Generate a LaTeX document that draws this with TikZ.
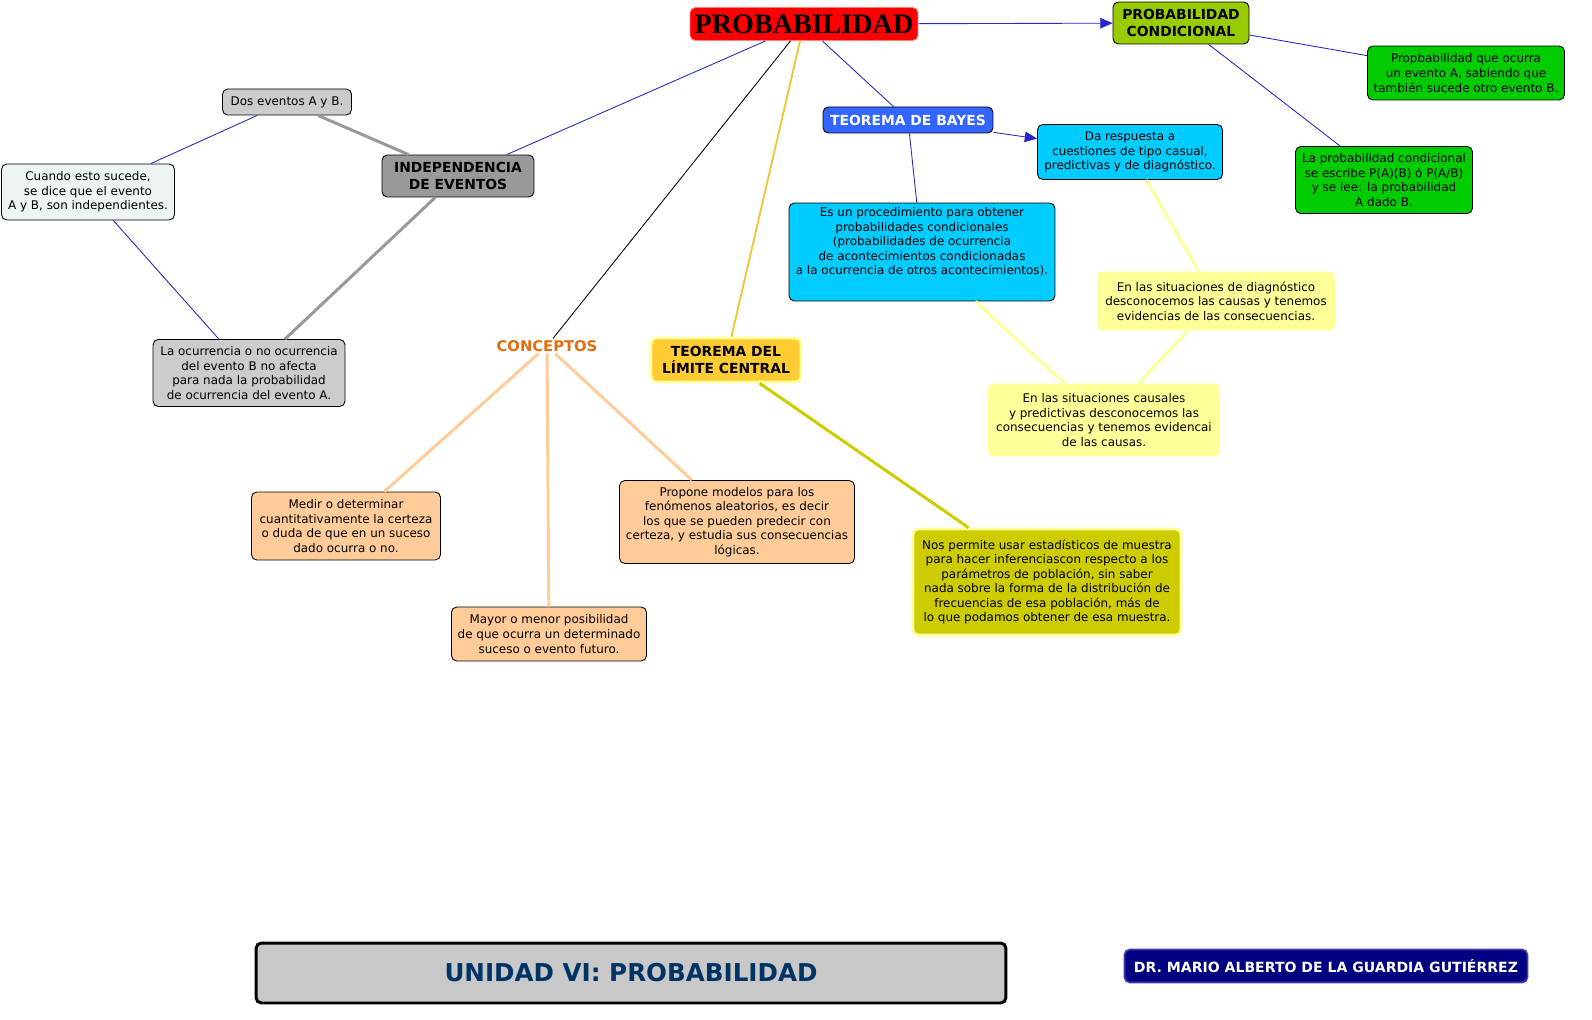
\documentclass[tikz,border=0pt]{standalone}
\usepackage{fontspec}
\setmainfont{DejaVu Sans}
\newfontfamily\titlefont{Liberation Serif}
\usepackage{tikz}
\usetikzlibrary{arrows.meta}
\usepackage{xcolor}

\definecolor{linkblue}{RGB}{40,40,200}
\definecolor{redbox}{RGB}{255,0,0}
\definecolor{condgreen}{RGB}{153,204,0}
\definecolor{leafgreen}{RGB}{0,204,0}
\definecolor{bayesblue}{RGB}{51,102,255}
\definecolor{skyblue}{RGB}{0,204,255}
\definecolor{paleyellow}{RGB}{255,255,153}
\definecolor{goldbox}{RGB}{255,204,51}
\definecolor{olivebox}{RGB}{204,204,0}
\definecolor{peach}{RGB}{255,204,153}
\definecolor{midgray}{RGB}{153,153,153}
\definecolor{lightgray}{RGB}{204,204,204}
\definecolor{paleblue}{RGB}{238,244,246}
\definecolor{conceptorange}{RGB}{228,108,10}
\definecolor{unitblue}{RGB}{0,51,102}
\definecolor{navybox}{RGB}{0,0,128}

\tikzset{
  concept/.style={draw=black, line width=0.5pt, rounded corners=3pt, align=center,
    font=\fontsize{6.8}{8.3}\selectfont, inner sep=1pt},
  headbox/.style={concept, font=\fontsize{7.9}{9.2}\selectfont\bfseries},
  thinlink/.style={draw=linkblue, line width=0.5pt},
  thicklink/.style={line width=1.7pt},
}

\begin{document}
\begin{tikzpicture}[x=0.02cm, y=-0.02cm]
    \useasboundingbox (0,0) rectangle (1592,1020);

    % main title and first level
    \node[concept, fill=redbox, draw={rgb,255:red,255;green,130;blue,130}, minimum width=4.56cm, minimum height=0.66cm,
      font=\titlefont\fontsize{16}{17}\selectfont\bfseries] (prob) at (804,24) {PROBABILIDAD};
    \node[headbox, fill=condgreen, minimum width=2.72cm, minimum height=0.84cm] (cond) at (1181,23) {PROBABILIDAD\\CONDICIONAL};
    \node[headbox, fill=bayesblue, text=white, minimum width=3.4cm, minimum height=0.52cm] (bayes) at (908,120) {TEOREMA DE BAYES};
    \node[headbox, fill=midgray, minimum width=3.04cm, minimum height=0.84cm] (indep) at (458,176) {INDEPENDENCIA\\DE EVENTOS};
    \node[font=\fontsize{8.4}{9}\selectfont\bfseries, text=conceptorange, inner sep=1pt] (concepts) at (547,346) {CONCEPTOS};
    \node[headbox, fill=goldbox, draw=paleyellow, line width=1.5pt, minimum width=3.0cm, minimum height=0.88cm] (limit) at (726,360) {TEOREMA DEL\\LÍMITE CENTRAL};

    % conditional probability
    \node[concept, fill=leafgreen, minimum width=3.94cm, minimum height=1.08cm] (occurs) at (1466,73)
      {Propbabilidad que ocurra\\ un evento A, sabiendo que\\también sucede otro evento B.};
    \node[concept, fill=leafgreen, minimum width=3.54cm, minimum height=1.34cm] (written) at (1384,180)
      {La probabilidad condicional\\se escribe P(A)(B) ó P(A/B)\\y se lee: la probabilidad\\A dado B.};

    % Bayes
    \node[concept, fill=skyblue, minimum width=3.7cm, minimum height=1.1cm] (answers) at (1130,152)
      {Da respuesta a\\cuestiones de tipo casual,\\predictivas y de diagnóstico.};
    \node[concept, fill=skyblue, minimum width=5.32cm, minimum height=1.96cm] (procedure) at (922,252)
      {Es un procedimiento para obtener\\probabilidades condicionales\\(probabilidades de ocurrencia\\de acontecimientos condicionadas\\a la ocurrencia de otros acontecimientos).\\[4pt]};
    \node[concept, fill=paleyellow, draw=none, minimum width=4.76cm, minimum height=1.18cm] (diagnosis) at (1216,301)
      {En las situaciones de diagnóstico\\desconocemos las causas y tenemos\\evidencias de las consecuencias.};
    \node[concept, fill=paleyellow, draw=none, minimum width=4.64cm, minimum height=1.46cm] (causal) at (1104,420)
      {En las situaciones causales\\y predictivas desconocemos las\\consecuencias y tenemos evidencai\\de las causas.};

    % central limit theorem
    \node[concept, fill=olivebox, draw=paleyellow, line width=1.5pt, minimum width=5.36cm, minimum height=2.12cm] (allows) at (1047,582)
      {Nos permite usar estadísticos de muestra\\para hacer inferenciascon respecto a los\\parámetros de población, sin saber\\nada sobre la forma de la distribución de\\frecuencias de esa población, más de\\lo que podamos obtener de esa muestra.};

    % concepts
    \node[concept, fill=peach, minimum width=3.78cm, minimum height=1.36cm] (measure) at (346,526)
      {Medir o determinar\\cuantitativamente la certeza\\o duda de que en un suceso\\dado ocurra o no.};
    \node[concept, fill=peach, minimum width=3.9cm, minimum height=1.08cm] (chance) at (549,634)
      {Mayor o menor posibilidad\\de que ocurra un determinado\\suceso o evento futuro.};
    \node[concept, fill=peach, minimum width=4.7cm, minimum height=1.66cm] (models) at (737,522)
      {Propone modelos para los\\fenómenos aleatorios, es decir\\los que se pueden predecir con\\certeza, y estudia sus consecuencias\\lógicas.};

    % independence
    \node[concept, fill=lightgray, minimum width=2.58cm, minimum height=0.52cm] (two) at (287,102) {Dos eventos A y B.};
    \node[concept, fill=paleblue, minimum width=3.46cm, minimum height=1.12cm] (when) at (88,192)
      {Cuando esto sucede,\\se dice que el evento\\A y B, son independientes.};
    \node[concept, fill=lightgray, minimum width=3.84cm, minimum height=1.34cm] (noeffect) at (249,373)
      {La ocurrencia o no ocurrencia\\del evento B no afecta\\para nada la probabilidad\\de ocurrencia del evento A.};

    % footer
    \node[concept, fill={rgb,255:red,200;green,200;blue,200}, line width=1.7pt, minimum width=15cm, minimum height=1.2cm,
      text=unitblue, font=\fontsize{14}{15}\selectfont\bfseries] (unit) at (631,973) {UNIDAD VI: PROBABILIDAD};
    \node[concept, fill=navybox, draw={rgb,255:red,60;green,60;blue,170}, line width=1pt, minimum width=8.06cm, minimum height=0.66cm,
      text=white, font=\fontsize{8.0}{9}\selectfont\bfseries] (author) at (1326,966) {DR. MARIO ALBERTO DE LA GUARDIA GUTIÉRREZ};

    % links
    \draw[thinlink, -{Triangle[length=7pt, width=6pt]}] (prob) -- (cond);
    \draw[thinlink] (prob) -- (indep);
    \draw[black, line width=0.5pt] (prob) -- (concepts);
    \draw[draw={rgb,255:red,240;green,200;blue,60}, line width=1.1pt] (prob) -- (limit);
    \draw[thinlink] (prob) -- (bayes);
    \draw[thinlink] (cond) -- (occurs);
    \draw[thinlink] (cond) -- (written);
    \draw[thinlink, -{Triangle[length=7pt, width=6pt]}] (bayes) -- (answers);
    \draw[thinlink] (bayes) -- (procedure);
    \draw[thicklink, paleyellow] (answers) -- (diagnosis);
    \draw[thicklink, paleyellow] (procedure) -- (causal);
    \draw[thicklink, paleyellow] (diagnosis) -- (causal);
    \draw[thicklink, olivebox] (limit) -- (allows);
    \draw[thicklink, peach] (concepts) -- (measure);
    \draw[thicklink, peach] (concepts) -- (chance);
    \draw[thicklink, peach] (concepts) -- (models);
    \draw[thicklink, midgray] (indep) -- (two);
    \draw[thinlink] (two) -- (when);
    \draw[thinlink] (when) -- (noeffect);
    \draw[thicklink, midgray] (indep) -- (noeffect);
\end{tikzpicture}
\end{document}
